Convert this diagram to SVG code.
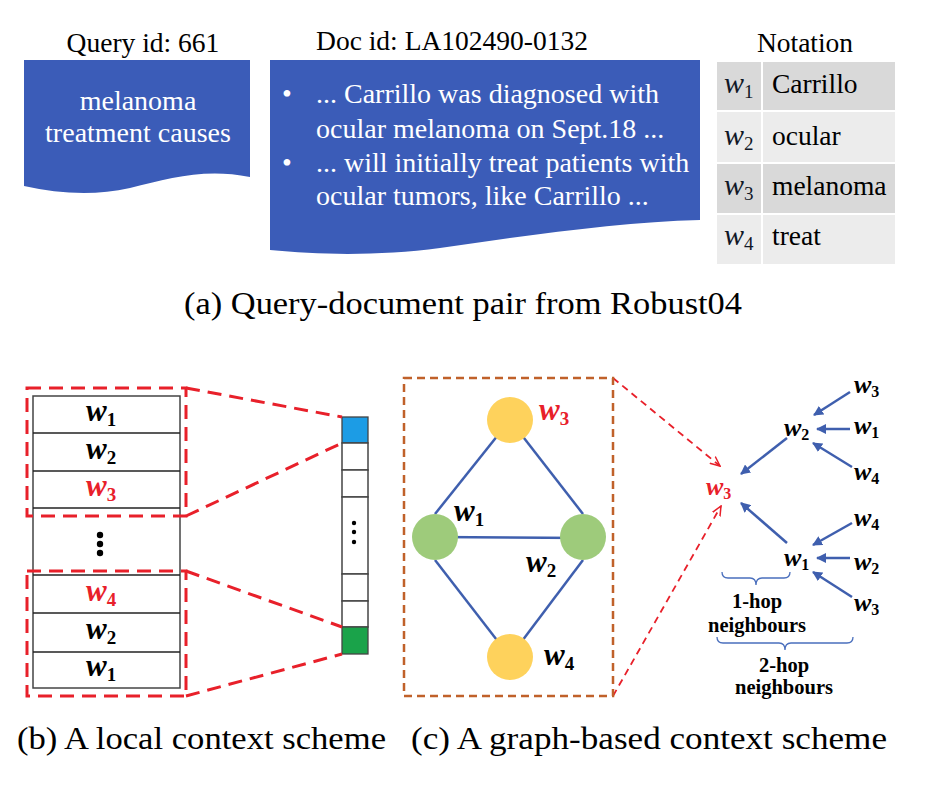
<svg xmlns="http://www.w3.org/2000/svg" width="936" height="798" viewBox="0 0 936 798">
<defs>
<style>
.lbl{font-family:"Liberation Serif","Times New Roman",serif;font-size:27.5px;fill:#000;}
.white{font-family:"Liberation Serif","Times New Roman",serif;font-size:28px;fill:#fff;}
.cap{font-family:"Liberation Serif","Times New Roman",serif;font-size:32px;fill:#000;}
.wb{font-family:"Liberation Serif","Times New Roman",serif;font-weight:bold;font-style:italic;font-size:31px;}
.sb{font-family:"Liberation Serif","Times New Roman",serif;font-weight:bold;font-style:normal;font-size:19px;}
.wt{font-family:"Liberation Serif","Times New Roman",serif;font-weight:bold;font-style:italic;font-size:26px;}
.st{font-family:"Liberation Serif","Times New Roman",serif;font-weight:bold;font-style:normal;font-size:16px;}
.wi{font-family:"Liberation Serif","Times New Roman",serif;font-style:italic;font-size:30px;fill:#111827;}
.si{font-family:"Liberation Serif","Times New Roman",serif;font-style:normal;font-size:19px;fill:#111827;}
.tb{font-family:"Liberation Serif","Times New Roman",serif;font-size:27.5px;fill:#000;}
.hop{font-family:"Liberation Serif","Times New Roman",serif;font-weight:bold;font-size:20.5px;fill:#000;text-anchor:middle;}
.reddash{fill:none;stroke:#e8202a;stroke-width:3;stroke-dasharray:14 8;}
.edge{stroke:#3f5fae;stroke-width:2.5;fill:none;}
.arr{stroke:#3f5fae;stroke-width:2.5;fill:none;marker-end:url(#bh);}
.thinred{stroke:#e8202a;stroke-width:1.8;stroke-dasharray:7 5;fill:none;marker-end:url(#rh);}
.brace{stroke:#4a6fbd;stroke-width:1.3;fill:none;}
.cell{fill:#fff;stroke:#444;stroke-width:1.5;}
.row{stroke:#222;stroke-width:1.3;}
</style>
<marker id="bh" viewBox="0 0 10 10" refX="9" refY="5" markerWidth="4" markerHeight="4" orient="auto" markerUnits="strokeWidth">
<path d="M0,0 L10,5 L0,10 Z" fill="#3f5fae"/>
</marker>
<marker id="rh" viewBox="0 0 10 10" refX="9" refY="5" markerWidth="6" markerHeight="6" orient="auto" markerUnits="strokeWidth">
<path d="M0,1 L9,5 L0,9" fill="none" stroke="#e8202a" stroke-width="1.4"/>
</marker>
</defs>
<rect width="936" height="798" fill="#fff"/>

<!-- Panel (a) -->
<g id="query">
<text class="lbl" x="143" y="52" text-anchor="middle">Query id: 661</text>
<path d="M24,60 H250 V177 C205,168 170,178 130,188 C95,196 60,194 24,186 Z" fill="#3b5cb8"/>
<text class="white" x="138" y="110" text-anchor="middle">melanoma</text>
<text class="white" x="138" y="142" text-anchor="middle">treatment causes</text>
</g>
<g id="document">
<text class="lbl" x="452" y="50" text-anchor="middle">Doc id: LA102490-0132</text>
<path d="M270,60 H700 V220 C620,222 530,235 440,248 C380,256 320,255 270,250 Z" fill="#3b5cb8"/>
<text class="white" x="282" y="103">•</text>
<text class="white" x="316" y="103">... Carrillo was diagnosed with</text>
<text class="white" x="316" y="138">ocular melanoma on Sept.18 ...</text>
<text class="white" x="282" y="172">•</text>
<text class="white" x="316" y="172">... will initially treat patients with</text>
<text class="white" x="316" y="205">ocular tumors, like Carrillo ...</text>
</g>
<g id="notation">
<text class="lbl" x="805" y="52" text-anchor="middle">Notation</text>
<rect x="717" y="62" width="44" height="48" fill="#d9d9d9"/>
<rect x="763" y="62" width="132" height="48" fill="#d9d9d9"/>
<rect x="717" y="112" width="44" height="50" fill="#ececec"/>
<rect x="763" y="112" width="132" height="50" fill="#ececec"/>
<rect x="717" y="164" width="44" height="49" fill="#d9d9d9"/>
<rect x="763" y="164" width="132" height="49" fill="#d9d9d9"/>
<rect x="717" y="215" width="44" height="49" fill="#ececec"/>
<rect x="763" y="215" width="132" height="49" fill="#ececec"/>
<text class="wi" x="724" y="93">w<tspan class="si" dy="5">1</tspan></text>
<text class="wi" x="724" y="145">w<tspan class="si" dy="5">2</tspan></text>
<text class="wi" x="724" y="195">w<tspan class="si" dy="5">3</tspan></text>
<text class="wi" x="724" y="245">w<tspan class="si" dy="5">4</tspan></text>
<text class="tb" x="772" y="93">Carrillo</text>
<text class="tb" x="772" y="145">ocular</text>
<text class="tb" x="772" y="195">melanoma</text>
<text class="tb" x="772" y="245">treat</text>
</g>
<text class="cap" x="184" y="314" textLength="558" lengthAdjust="spacingAndGlyphs">(a) Query-document pair from Robust04</text>

<!-- Panel (b) -->
<g id="context-column">
<rect class="cell" x="33" y="396" width="147" height="292"/>
<line class="row" x1="33" y1="433" x2="180" y2="433"/>
<line class="row" x1="33" y1="471" x2="180" y2="471"/>
<line class="row" x1="33" y1="508" x2="180" y2="508"/>
<line class="row" x1="33" y1="575" x2="180" y2="575"/>
<line class="row" x1="33" y1="613" x2="180" y2="613"/>
<line class="row" x1="33" y1="652" x2="180" y2="652"/>
<text class="wb" x="86" y="421">w<tspan class="sb" dy="5">1</tspan></text>
<text class="wb" x="86" y="459">w<tspan class="sb" dy="5">2</tspan></text>
<text class="wb" x="86" y="496" fill="#e8202a">w<tspan class="sb" dy="5">3</tspan></text>
<circle cx="100" cy="535" r="3.2" fill="#000"/>
<circle cx="100" cy="544" r="3.2" fill="#000"/>
<circle cx="100" cy="553" r="3.2" fill="#000"/>
<text class="wb" x="86" y="601" fill="#e8202a">w<tspan class="sb" dy="5">4</tspan></text>
<text class="wb" x="86" y="639">w<tspan class="sb" dy="5">2</tspan></text>
<text class="wb" x="86" y="676">w<tspan class="sb" dy="5">1</tspan></text>
</g>
<g id="vector">
<rect x="342" y="417" width="26" height="26" fill="#1c9ce5" stroke="#444" stroke-width="1.3"/>
<rect class="cell" x="342" y="443" width="26" height="27" stroke-width="1.3"/>
<rect class="cell" x="342" y="470" width="26" height="27" stroke-width="1.3"/>
<rect class="cell" x="342" y="497" width="26" height="77" stroke-width="1.3"/>
<rect class="cell" x="342" y="574" width="26" height="27" stroke-width="1.3"/>
<rect class="cell" x="342" y="601" width="26" height="26" stroke-width="1.3"/>
<rect x="342" y="627" width="26" height="27" fill="#1aa34a" stroke="#444" stroke-width="1.3"/>
<circle cx="354" cy="523" r="2.2" fill="#000"/>
<circle cx="354" cy="532" r="2.2" fill="#000"/>
<circle cx="354" cy="542" r="2.2" fill="#000"/>
</g>
<g id="windows">
<rect class="reddash" x="27" y="388" width="159" height="128"/>
<rect class="reddash" x="27" y="571" width="159" height="125"/>
<line class="reddash" x1="186" y1="388" x2="342" y2="417"/>
<line class="reddash" x1="186" y1="516" x2="342" y2="443"/>
<line class="reddash" x1="186" y1="571" x2="342" y2="627"/>
<line class="reddash" x1="186" y1="696" x2="342" y2="654"/>
</g>

<!-- Panel (c) -->
<g id="connectors">
<line class="edge" x1="510" y1="420" x2="435" y2="514"/>
<line class="edge" x1="510" y1="420" x2="583" y2="514"/>
<line class="edge" x1="435" y1="537" x2="583" y2="538"/>
<line class="edge" x1="435" y1="560" x2="510" y2="657"/>
<line class="edge" x1="583" y1="560" x2="510" y2="657"/>
<line class="thinred" x1="613" y1="378" x2="720" y2="466"/>
<line class="thinred" x1="613" y1="696" x2="721" y2="506"/>
<line class="arr" x1="850" y1="392" x2="814" y2="415"/>
<line class="arr" x1="850" y1="429" x2="817" y2="429"/>
<line class="arr" x1="852" y1="467" x2="813" y2="443"/>
<line class="arr" x1="787" y1="438" x2="741" y2="474"/>
<line class="arr" x1="787" y1="543" x2="741" y2="503"/>
<line class="arr" x1="852" y1="523" x2="813" y2="545"/>
<line class="arr" x1="850" y1="558" x2="817" y2="558"/>
<line class="arr" x1="852" y1="597" x2="813" y2="572"/>
</g>
<rect x="404" y="378" width="209" height="318" fill="none" stroke="#c0612a" stroke-width="2.5" stroke-dasharray="8 5"/>
<g id="node-w3">
<circle cx="510" cy="420" r="23" fill="#fed25c"/>
<text class="wb" x="539" y="420" fill="#e8202a">w<tspan class="sb" dy="5">3</tspan></text>
</g>
<g id="node-w1">
<circle cx="435" cy="537" r="23" fill="#9ecb7b"/>
<text class="wb" x="454" y="521">w<tspan class="sb" dy="5">1</tspan></text>
</g>
<g id="node-w2">
<circle cx="583" cy="537" r="23" fill="#9ecb7b"/>
<text class="wb" x="526" y="572">w<tspan class="sb" dy="5">2</tspan></text>
</g>
<g id="node-w4">
<circle cx="510" cy="657" r="23" fill="#fed25c"/>
<text class="wb" x="544" y="665">w<tspan class="sb" dy="5">4</tspan></text>
</g>

<g id="tree">
<text class="wt" x="706" y="495" fill="#e8202a">w<tspan class="st" dy="4">3</tspan></text>
<text class="wt" x="784" y="436">w<tspan class="st" dy="4">2</tspan></text>
<text class="wt" x="784" y="566">w<tspan class="st" dy="4">1</tspan></text>
<text class="wt" x="854" y="393">w<tspan class="st" dy="4">3</tspan></text>
<text class="wt" x="854" y="434">w<tspan class="st" dy="4">1</tspan></text>
<text class="wt" x="854" y="480">w<tspan class="st" dy="4">4</tspan></text>
<text class="wt" x="854" y="526">w<tspan class="st" dy="4">4</tspan></text>
<text class="wt" x="854" y="570">w<tspan class="st" dy="4">2</tspan></text>
<text class="wt" x="854" y="611">w<tspan class="st" dy="4">3</tspan></text>
<path class="brace" d="M722,572 Q722,578 728,578 H750 Q756,578 756,585 Q756,578 762,578 H784 Q790,578 790,572"/>
<path class="brace" d="M717,637 Q717,643 723,643 H779 Q785,643 785,650 Q785,643 791,643 H847 Q853,643 853,637"/>
<text class="hop" x="757" y="608">1-hop</text>
<text class="hop" x="757" y="632">neighbours</text>
<text class="hop" x="784" y="672">2-hop</text>
<text class="hop" x="784" y="694">neighbours</text>
</g>

<text class="cap" x="17" y="749" textLength="369" lengthAdjust="spacingAndGlyphs">(b) A local context scheme</text>
<text class="cap" x="411" y="749" textLength="476" lengthAdjust="spacingAndGlyphs">(c) A graph-based context scheme</text>
</svg>
